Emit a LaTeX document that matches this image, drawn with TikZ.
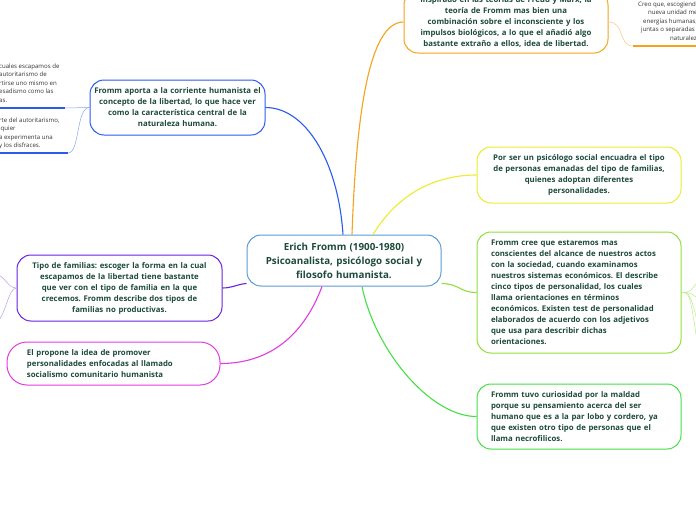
\documentclass[tikz,border=0pt]{standalone}
\usepackage{fontspec}
\setmainfont{Open Sans}
\frenchspacing
\definecolor{txt}{HTML}{1D4A3B}
\definecolor{ccenter}{HTML}{5B9BD5}
\definecolor{cblue}{HTML}{2A5BF0}
\definecolor{corange}{HTML}{F7A21B}
\definecolor{cyellow}{HTML}{ECEC2A}
\definecolor{clime}{HTML}{8FE03C}
\definecolor{cgreen}{HTML}{45E045}
\definecolor{cpurple}{HTML}{6A22E0}
\definecolor{cmagenta}{HTML}{E03CE0}
\definecolor{smalltxt}{HTML}{333333}
\begin{document}
\begin{tikzpicture}[x=1pt,y=-1pt,
  mbox/.style={draw, rounded corners=14pt, line width=1pt, text=txt,
    font=\bfseries\fontsize{7.8}{11}\selectfont, inner sep=0pt},
  conn/.style={line width=1.1pt},
  subconn/.style={line width=0.5pt},
  uline/.style={line width=1.3pt},
  smalltext/.style={font=\fontsize{6.1}{8.5}\selectfont, text=smalltxt, inner sep=0pt, align=left}]
\clip (0,0) rectangle (696,520);
\fill[white] (0,0) rectangle (696,520);

% central node
\node[mbox, draw=ccenter, font=\bfseries\fontsize{9.8}{14}\selectfont,
  minimum width=194pt, minimum height=51pt, text width=184pt, align=center]
  (center) at (344,260.5) {Erich Fromm (1900-1980)\\Psicoanalista, psicólogo social y\\filosofo humanista.};

% main nodes
\node[mbox, draw=corange, minimum width=204pt, minimum height=62pt, text width=194pt, align=center]
  (orange) at (506,22) {Inspirado en las teorías de Freud y Marx, la\\teoría de Fromm mas bien una\\combinación sobre el inconsciente y los\\impulsos biológicos, a lo que el añadió algo\\bastante extraño a ellos, idea de libertad.};
\node[mbox, draw=cyellow, minimum width=204pt, minimum height=56pt, text width=194pt, align=center]
  (yellow) at (579,175) {Por ser un psicólogo social encuadra el tipo\\de personas emanadas del tipo de familias,\\quienes adoptan diferentes\\personalidades.};
\node[mbox, draw=clime, minimum width=204pt, minimum height=121pt, text width=176pt, inner xsep=14pt, align=left]
  (lime) at (579,292.5) {Fromm cree que estaremos mas\\conscientes del alcance de nuestros actos\\con la sociedad, cuando examinamos\\nuestros sistemas económicos. El describe\\cinco tipos de personalidad, los cuales\\llama orientaciones en términos\\económicos. Existen test de personalidad\\elaborados de acuerdo con los adjetivos\\que usa para describir dichas\\orientaciones.};
\node[mbox, draw=cgreen, minimum width=204pt, minimum height=65pt, text width=176pt, inner xsep=14pt, align=left]
  (green) at (579,416.5) {Fromm tuvo curiosidad por la maldad\\porque su pensamiento acerca del ser\\humano que es a la par lobo y cordero, ya\\que existen otro tipo de personas que el\\llama necrofilicos.};
\node[mbox, draw=cblue, minimum width=175pt, minimum height=55pt, text width=169pt, align=center]
  (blue) at (177.5,107.5) {Fromm aporta a la corriente humanista el\\concepto de la libertad, lo que hace ver\\como la característica central de la\\naturaleza humana.};
\node[mbox, draw=cpurple, minimum width=205pt, minimum height=66pt, text width=199pt, align=center]
  (purple) at (119.5,288) {Tipo de familias: escoger la forma en la cual\\escapamos de la libertad tiene bastante\\que ver con el tipo de familia en la que\\crecemos. Fromm describe dos tipos de\\familias no productivas.};
\node[mbox, draw=cmagenta, rounded corners=20pt, minimum width=213pt, minimum height=43pt, text width=173pt, inner xsep=20pt, align=left]
  (magenta) at (113.5,363.5) {El propone la idea de promover\\personalidades enfocadas al llamado\\socialismo comunitario humanista};

% main connectors
\draw[conn, cblue] ([xshift=-1pt]center.north) .. controls (338,160) and (305,107.5) .. (blue.east);
\draw[conn, corange] ([xshift=8pt]center.north) .. controls (356,120) and (368,22) .. (orange.west);
\draw[conn, cyellow] ([xshift=29pt]center.north) .. controls (400,190) and (440,175) .. (yellow.west);
\draw[conn, clime] ([yshift=3pt]center.south east) .. controls (460,284) and (460,292.5) .. (lime.west);
\draw[conn, cgreen] ([xshift=18pt]center.south) .. controls (375,350) and (430,416.5) .. (green.west);
\draw[conn, cmagenta] ([xshift=-22pt]center.south) .. controls (300,345) and (260,363.5) .. (magenta.east);
\draw[conn, cpurple] ([yshift=3pt]center.south west) .. controls (238,284) and (232,288) .. (purple.east);

% blue children
\coordinate (b1) at (65,108);
\coordinate (b1end) at (-2,108);
\coordinate (b2) at (68,153);
\coordinate (b2end) at (-2,153);
\draw[subconn, cblue!55] (blue.west) .. controls (80,107.5) and (75,108) .. (b1);
\draw[uline, cblue] (b1) -- (b1end);
\draw[subconn, cblue!55] (blue.west) .. controls (76,107.5) and (80,153) .. (b2);
\draw[uline, cblue] (b2) -- (b2end);
\node[smalltext, anchor=north west] (bt1) at (-1,63.5) {cuales escapamos de\\autoritarismo de\\rtirse uno mismo en\\esadismo como las\\as.};
\node[smalltext, anchor=north west] (bt2) at (-1,117.5) {rte del autoritarismo,\\lquier\\a experimenta una\\y los disfraces.};

% orange child
\coordinate (o1) at (633,46);
\coordinate (o1end) at (700,46);
\draw[subconn, corange!60] (orange.east) .. controls (625,22) and (618,46) .. (o1);
\draw[uline, corange] (o1) -- (o1end);
\node[smalltext, anchor=north west] (ot1) at (638,1.5) {Creo que, escogiendo\\\hspace*{10pt}nueva unidad me\\\hspace*{5pt}energías humanas,\\\hspace*{3pt}juntas o separadas\\\hspace*{32pt}naturaleza};

% lime children (off the right edge)
\coordinate (l1) at (700,278);
\coordinate (l2) at (700,300);
\coordinate (l3) at (700,332);
\coordinate (l4) at (700,362);
\foreach \c in {l1,l2,l3,l4}
  \draw[subconn, clime!60] (lime.east) .. controls (690,292.5) and (690,292.5) .. (\c);

% purple children (off the left edge)
\coordinate (p1) at (-3,274);
\coordinate (p2) at (-3,322);
\draw[subconn, cpurple!45] (purple.west) .. controls (8,288) and (6,278) .. (p1);
\draw[subconn, cpurple!45] (purple.west) .. controls (8,288) and (6,315) .. (p2);
\end{tikzpicture}
\end{document}
